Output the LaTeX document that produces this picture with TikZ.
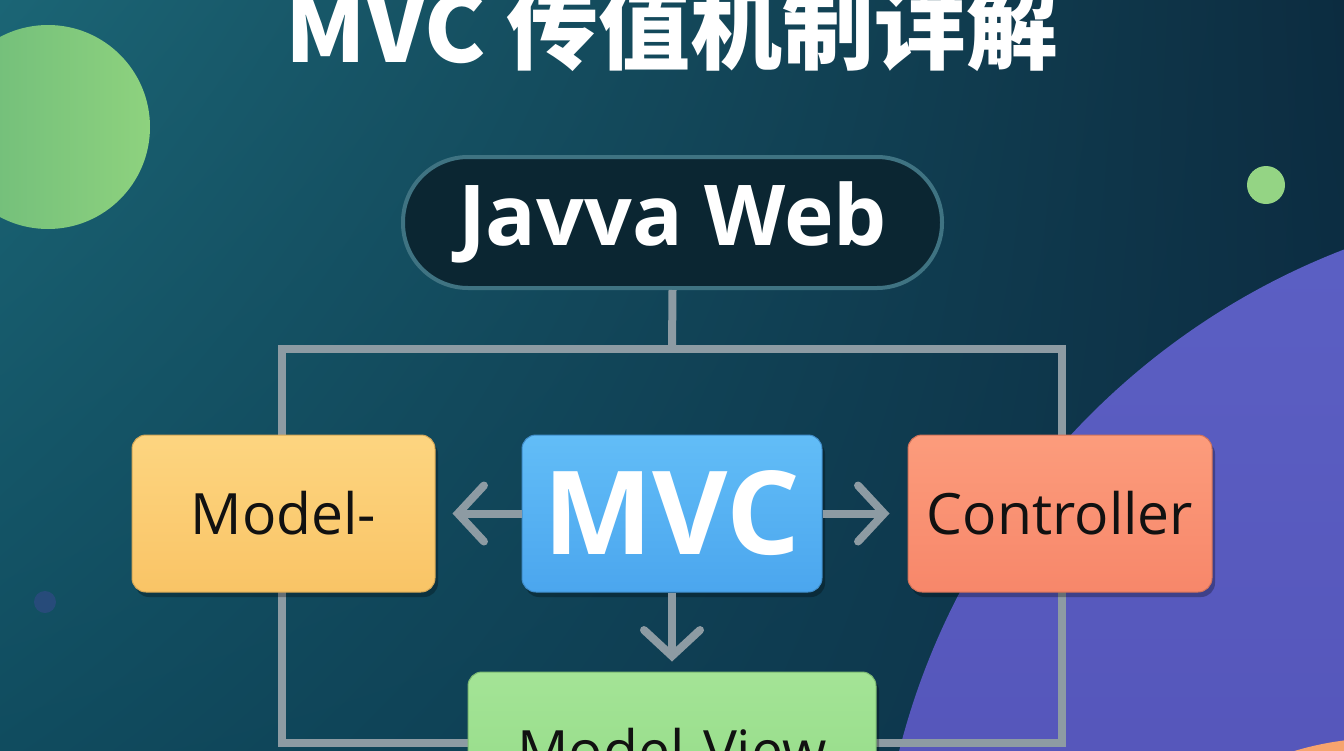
\documentclass[tikz,border=0pt]{standalone}
\usepackage{fontspec}
\setmainfont{Open Sans}
\newfontfamily\cjk{Noto Sans CJK SC}
\usetikzlibrary{arrows.meta,shadows,shadings}
\definecolor{bgUL}{HTML}{1B6575}
\definecolor{bgUR}{HTML}{0C2C40}
\definecolor{bgLL}{HTML}{104C5F}
\definecolor{bgLR}{HTML}{0C2E45}
\definecolor{greenA}{HTML}{6CBA7A}
\definecolor{greenB}{HTML}{8ED27E}
\definecolor{purpA}{HTML}{5C60C4}
\definecolor{purpB}{HTML}{4B47AC}
\definecolor{lineC}{HTML}{8D9BA3}
\definecolor{pillFill}{HTML}{0B2632}
\definecolor{pillBorder}{HTML}{3F7382}
\definecolor{yelA}{HTML}{FDD580}
\definecolor{yelB}{HTML}{F9C466}
\definecolor{bluA}{HTML}{62BDF7}
\definecolor{bluB}{HTML}{4BA6EE}
\definecolor{redA}{HTML}{FC9C7C}
\definecolor{redB}{HTML}{F7876A}
\definecolor{grnA}{HTML}{A4E496}
\definecolor{grnB}{HTML}{92DA86}
\definecolor{txtD}{HTML}{111111}
\definecolor{dotC}{HTML}{2D4A80}
\definecolor{orC}{HTML}{F7A46E}
\tikzset{
  frameline/.style={draw=lineC, line width=8pt},
  arr/.style={draw=lineC, line width=8pt, -{Straight Barb[length=26pt,width=56pt,line cap=round]}},
  box/.style={rectangle, rounded corners=14pt, minimum height=157pt, inner sep=0pt,
    text=txtD, font=\fontsize{57}{60}\selectfont,
    general shadow={shadow xshift=3pt, shadow yshift=-5pt, fill=black, opacity=0.28}},
}
\begin{document}
\begin{tikzpicture}[x=1pt,y=-1pt]
\useasboundingbox (0,0) rectangle (1344,750);
\clip (0,0) rectangle (1344,750);
% background
\shade[upper left=bgUL, upper right=bgUR, lower left=bgLL, lower right=bgLR] (0,0) rectangle (1344,750);
% decorative circles
\shade[left color=greenA, right color=greenB] (48,127) circle (102);
\fill[greenB!95!white] (1266,185) circle (19);
\fill[dotC, opacity=0.8] (45,602) circle (11);
\shade[top color=purpA, bottom color=purpB] (1606,930) circle (729);
\fill[orC] (1383,1045) circle (307);
% title
\node[anchor=base, text=white, font=\cjk\bfseries\fontsize{92}{92}\selectfont] (title) at (672,62) {MVC 传值机制详解};
% pill
\node[rectangle, rounded corners=65pt, fill=pillFill, draw=pillBorder, line width=4pt,
  minimum width=539pt, minimum height=131pt, inner sep=0pt, text=white,
  font=\bfseries\fontsize{84}{84}\selectfont] (web) at (672.5,222.5) {Javva Web};
% frame
\coordinate (junc) at (672,349);
\coordinate (fl) at (282,349);
\coordinate (fr) at (1062,349);
\coordinate (bl) at (282,743);
\coordinate (br) at (1062,743);
\draw[frameline] (web.south) -- (junc);
\draw[frameline, line cap=rect] (bl) -- (fl) -- (fr) -- (br) -- cycle;
% boxes
\node[box, minimum width=303pt, top color=yelA, bottom color=yelB, draw=yelB!85!black, line width=1pt] (model) at (283.5,513.5) {Model-};
\node[box, minimum width=300pt, top color=bluA, bottom color=bluB, draw=bluB!85!black, line width=1pt,
  text=white, font=\bfseries\fontsize{116}{116}\selectfont] (mvc) at (672,513.5) {MVC};
\node[box, minimum width=304pt, top color=redA, bottom color=redB, draw=redB!85!black, line width=1pt] (ctrl) at (1060,513.5) {Controller};
\node[box, minimum width=408pt, minimum height=156pt, top color=grnA, bottom color=grnB, draw=grnB!85!black, line width=1pt] (mv) at (672,750) {Model-View};
% arrows
\draw[arr, shorten >=17pt] (mvc.west) -- (model.east);
\draw[arr, shorten >=18pt] (mvc.east) -- (ctrl.west);
\draw[arr, shorten >=10pt] (mvc.south) -- (mv.north);
\end{tikzpicture}
\end{document}
